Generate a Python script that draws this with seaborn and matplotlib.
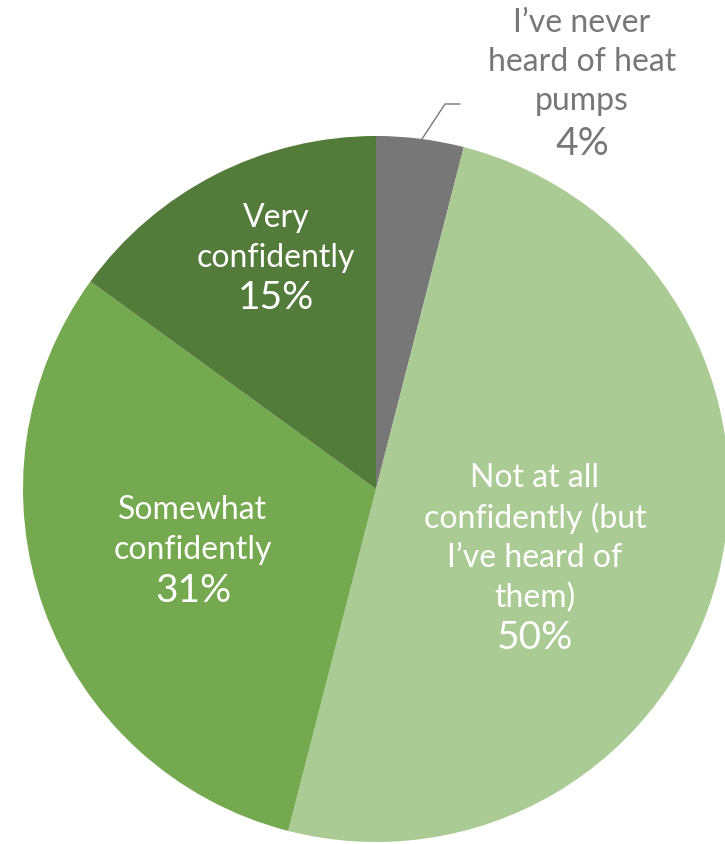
import matplotlib
matplotlib.use("Agg")
import matplotlib.pyplot as plt
import seaborn as sns

categories = ["I\u2019ve never heard of heat pumps", "Not at all confidently (but I\u2019ve heard of them)",
              "Somewhat confidently", "Very confidently"]
values = [4, 50, 31, 15]
label_lines = ["I\u2019ve never\nheard of heat\npumps", "Not at all\nconfidently (but\nI\u2019ve heard of\nthem)",
               "Somewhat\nconfidently", "Very\nconfidently"]
colors = ["#777777", "#abcb94", "#74a94f", "#537b3a"]

sns.set_theme(style="white")
plt.rcParams['font.family'] = ['Lato', 'DejaVu Sans']

W, H = 725, 845
fig = plt.figure(figsize=(W / 100, H / 100), dpi=100)
cx, cy, r = 376, 490, 353
ax = fig.add_axes([(cx - r) / W, (H - cy - r) / H, 2 * r / W, 2 * r / H])
ax.pie(values, colors=colors, startangle=90, counterclock=False, radius=1,
       wedgeprops=dict(linewidth=0))
ax.set_xlim(-1, 1)
ax.set_ylim(-1, 1)
ax.set_aspect('auto')
ax.axis('off')

def d(px, py):
    return (px - cx) / r, (cy - py) / r

# label placements (pixel centres of text blocks)
pos = [(582, 62), (535, 538), (193, 530), (276, 238)]
pct_pos = [(582, 144), (535, 638), (193, 591), (276, 298)]
text_colors = ["#777777", "white", "white", "white"]

for lab, v, p, pp, tc in zip(label_lines, values, pos, pct_pos, text_colors):
    x, y = d(*p)
    ax.text(x, y, lab, ha='center', va='center', color=tc, fontsize=23,
            fontweight='normal', linespacing=1.38, clip_on=False)
    x2, y2 = d(*pp)
    ax.text(x2, y2, f"{v}%", ha='center', va='center', color=tc, fontsize=28,
            fontweight='normal', clip_on=False)

# leader line for small slice
p1, p2, p3 = d(422, 140), d(445, 105), d(460, 105)
ax.plot([p1[0], p2[0], p3[0]], [p1[1], p2[1], p3[1]], color="#777777", lw=1, clip_on=False)

fig.savefig("out.png", dpi=100)
